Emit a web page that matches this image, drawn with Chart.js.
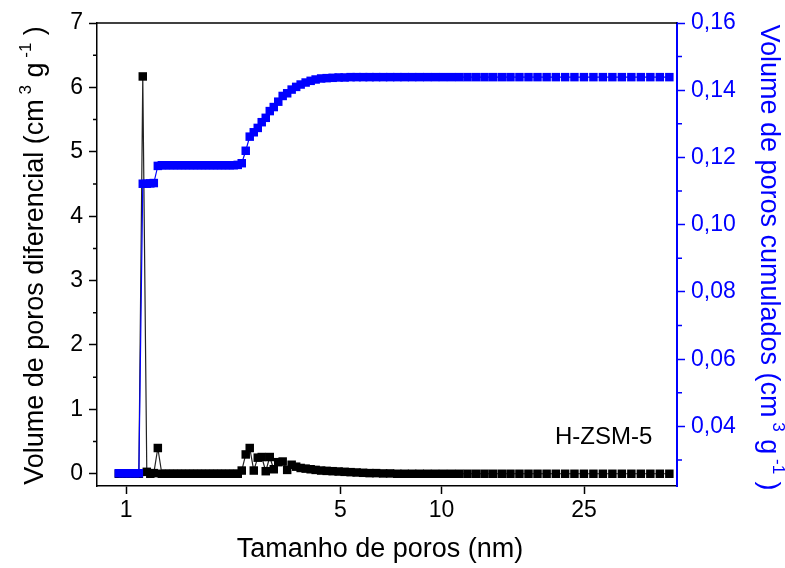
<!DOCTYPE html>
<html>
<head>
<meta charset="utf-8">
<script src="https://cdn.jsdelivr.net/npm/chart.js@4.4.0/dist/chart.umd.min.js"></script>
<style>
  body { margin: 0; background: #fff; }
</style>
</head>
<body>
<canvas id="chart" width="785" height="568"></canvas>
<script>
// pore width (nm)
const poreSize = [
  0.943, 0.974, 1.006, 1.038, 1.072, 1.107, 1.142, 1.179, 1.212, 1.246,
  1.286, 1.327, 1.369, 1.412, 1.457, 1.503, 1.550, 1.599, 1.649, 1.700,
  1.753, 1.808, 1.864, 1.922, 1.981, 2.042, 2.104, 2.169, 2.235, 2.303,
  2.373, 2.445, 2.519, 2.595, 2.674, 2.754, 2.836, 2.921, 3.009, 3.098,
  3.202, 3.307, 3.417, 3.530, 3.647, 3.767, 3.905, 4.048, 4.195, 4.363,
  4.537, 4.734, 4.939, 5.152, 5.373, 5.604, 5.863, 6.134, 6.416, 6.733,
  7.064, 7.420, 7.799, 8.206, 8.632, 9.091, 9.579, 10.10, 10.66, 11.25,
  11.88, 12.56, 13.28, 14.03, 14.85, 15.71, 16.64, 17.63, 18.67, 19.78,
  20.96, 22.22, 23.55, 24.98, 26.49, 28.08, 29.76, 31.53, 33.40, 35.37,
  37.45, 39.64, 41.95
];
// differential pore volume (cm3 g-1), left axis
const diffVolume = [
  0, 0, 0, 0, 0, 0, 6.17, 0.03, 0, 0.01,
  0.40, 0, 0, 0, 0, 0, 0, 0, 0, 0,
  0, 0, 0, 0, 0, 0, 0, 0, 0, 0,
  0, 0.05, 0.30, 0.40, 0.05, 0.25, 0.26, 0.04, 0.26, 0.07,
  0.18, 0.19, 0.06, 0.14, 0.11, 0.09, 0.08, 0.07, 0.06, 0.05,
  0.045, 0.04, 0.035, 0.03, 0.025, 0.02, 0.015, 0.01, 0.01, 0.005,
  0.005, 0, 0, 0, 0, 0, 0, 0, 0, 0,
  0, 0, 0, 0, 0, 0, 0, 0, 0, 0,
  0, 0, 0, 0, 0, 0, 0, 0, 0, 0,
  0, 0, 0
];
// cumulative pore volume (cm3 g-1), right axis
const cumVolume = [
  0.0261, 0.0261, 0.0261, 0.0261, 0.0261, 0.0261, 0.1122, 0.1122, 0.1123, 0.1124,
  0.1175, 0.1177, 0.1177, 0.1177, 0.1177, 0.1177, 0.1177, 0.1177, 0.1177, 0.1177,
  0.1177, 0.1177, 0.1177, 0.1177, 0.1177, 0.1177, 0.1177, 0.1177, 0.1177, 0.1177,
  0.1178, 0.1183, 0.1220, 0.1262, 0.1275, 0.1288, 0.1305, 0.1318, 0.1338, 0.1350,
  0.1366, 0.1383, 0.1391, 0.1402, 0.1410, 0.1417, 0.1423, 0.1428, 0.1432, 0.1435,
  0.1436, 0.1437, 0.1438, 0.1438, 0.1439, 0.1439, 0.1439, 0.1439, 0.1439, 0.1439,
  0.1439, 0.1439, 0.1439, 0.1439, 0.1439, 0.1439, 0.1439, 0.1439, 0.1439, 0.1439,
  0.1439, 0.1439, 0.1439, 0.1439, 0.1439, 0.1439, 0.1439, 0.1439, 0.1439, 0.1439,
  0.1439, 0.1439, 0.1439, 0.1439, 0.1439, 0.1439, 0.1439, 0.1439, 0.1439, 0.1439,
  0.1439, 0.1439, 0.1439
];

const xTicks = [1, 5, 10, 25];
const leftTicks = [0, 1, 2, 3, 4, 5, 6, 7];
const leftMinorTicks = [0.5, 1.5, 2.5, 3.5, 4.5, 5.5, 6.5];
const rightTicks = [0.04, 0.06, 0.08, 0.10, 0.12, 0.14, 0.16];
const rightMinorTicks = [0.03, 0.05, 0.07, 0.09, 0.11, 0.13, 0.15];
const sampleName = 'H-ZSM-5';
const xTitle = 'Tamanho de poros (nm)';
const leftTitle = [['Volume de poros diferencial (cm', false], [' 3', true], [' g', false], [' -1', true], [' )', false]];
const rightTitle = [['Volume de poros cumulados (cm', false], [' 3', true], [' g', false], [' -1', true], [' )', false]];

const BLUE = '#0000ff';
const FONT = "'Liberation Sans', Arial, sans-serif";
Chart.defaults.font.family = FONT;

// the x axis of the original is neither linear nor log, it spaces like x^0.08
const POW = 0.08;
class PowerScale extends Chart.LinearScale {
  getPixelForValue(value) {
    const a = Math.pow(this.min, POW), b = Math.pow(this.max, POW);
    return this.getPixelForDecimal((Math.pow(value, POW) - a) / (b - a));
  }
  getValueForPixel(pixel) {
    const a = Math.pow(this.min, POW), b = Math.pow(this.max, POW);
    return Math.pow(a + this.getDecimalForPixel(pixel) * (b - a), 1 / POW);
  }
}
PowerScale.id = 'power';
PowerScale.defaults = Chart.LinearScale.defaults;
Chart.register(PowerScale);

function drawRich(ctx, parts, cx, cy, rot, color) {
  ctx.save();
  ctx.translate(cx, cy);
  ctx.rotate(rot);
  ctx.fillStyle = color;
  ctx.textBaseline = 'middle';
  ctx.textAlign = 'left';
  let w = 0;
  parts.forEach(p => {
    ctx.font = (p[1] ? 17 : 27) + 'px ' + FONT;
    w += ctx.measureText(p[0]).width;
  });
  let x = -w / 2;
  parts.forEach(p => {
    ctx.font = (p[1] ? 17 : 27) + 'px ' + FONT;
    ctx.fillText(p[0], x, p[1] ? -10 : 0);
    x += ctx.measureText(p[0]).width;
  });
  ctx.restore();
}

const decor = {
  id: 'decor',
  afterDraw(chart) {
    const {ctx, chartArea: a, scales} = chart;
    ctx.save();
    // top frame line
    ctx.strokeStyle = '#000';
    ctx.lineWidth = 1.5;
    ctx.beginPath();
    ctx.moveTo(a.left, a.top);
    ctx.lineTo(a.right, a.top);
    ctx.stroke();
    // minor ticks
    ctx.beginPath();
    leftMinorTicks.forEach(v => {
      const y = scales.y.getPixelForValue(v);
      ctx.moveTo(a.left, y);
      ctx.lineTo(a.left - 4, y);
    });
    ctx.stroke();
    ctx.strokeStyle = BLUE;
    ctx.beginPath();
    rightMinorTicks.forEach(v => {
      const y = scales.y1.getPixelForValue(v);
      ctx.moveTo(a.right, y);
      ctx.lineTo(a.right + 5, y);
    });
    ctx.stroke();
    // sample label
    ctx.fillStyle = '#000';
    ctx.font = '24px ' + FONT;
    ctx.textAlign = 'left';
    ctx.textBaseline = 'middle';
    ctx.fillText(sampleName, a.right - 122, a.bottom - 49);
    // x title
    ctx.font = '27px ' + FONT;
    ctx.textAlign = 'center';
    ctx.fillText(xTitle, 380, 550);
    ctx.restore();
    // y titles with superscripts
    drawRich(ctx, leftTitle, 36, (a.top + a.bottom) / 2 + 1, -Math.PI / 2, '#000');
    drawRich(ctx, rightTitle, 768, (a.top + a.bottom) / 2 + 3, Math.PI / 2, BLUE);
  }
};

new Chart(document.getElementById('chart'), {
  type: 'line',
  data: {
    datasets: [
      {
        label: 'cumulativo',
        data: poreSize.map((x, i) => ({x: x, y: cumVolume[i]})),
        yAxisID: 'y1',
        borderColor: BLUE,
        backgroundColor: BLUE,
        borderWidth: 1.2,
        pointStyle: 'rect',
        pointRadius: 6,
        pointBorderWidth: 0,
        pointBackgroundColor: BLUE,
        order: 0
      },
      {
        label: 'diferencial',
        data: poreSize.map((x, i) => ({x: x, y: diffVolume[i]})),
        yAxisID: 'y',
        borderColor: '#222',
        backgroundColor: '#000',
        borderWidth: 1.2,
        pointStyle: 'rect',
        pointRadius: 6,
        pointBorderWidth: 0,
        pointBackgroundColor: '#000',
        order: 1
      }
    ]
  },
  options: {
    responsive: false,
    animation: false,
    layout: { autoPadding: false, padding: { top: 23, left: 0, right: 0, bottom: 0 } },
    plugins: { legend: { display: false }, tooltip: { enabled: false } },
    scales: {
      x: {
        type: 'power',
        position: 'bottom',
        min: 0.79,
        max: 43.9,
        afterBuildTicks: s => { s.ticks = xTicks.map(v => ({value: v})); },
        afterFit: s => { s.height = 82; },
        ticks: { color: '#000', font: { size: 23 }, padding: 3, autoSkip: false, maxRotation: 0, callback: v => String(v) },
        grid: { drawOnChartArea: false, tickLength: 8, tickWidth: 1.5, tickColor: '#000' },
        border: { color: '#000', width: 1.5 }
      },
      y: {
        position: 'left',
        min: -0.19,
        max: 7,
        afterBuildTicks: s => { s.ticks = leftTicks.map(v => ({value: v})); },
        afterFit: s => { s.width = 97; },
        ticks: { color: '#000', font: { size: 23 }, padding: 6 },
        grid: { drawOnChartArea: false, tickLength: 8, tickWidth: 1.5, tickColor: '#000' },
        border: { color: '#000', width: 1.5 }
      },
      y1: {
        position: 'right',
        min: 0.0223,
        max: 0.16,
        afterBuildTicks: s => { s.ticks = rightTicks.map(v => ({value: v})); },
        afterFit: s => { s.width = 108; },
        ticks: { color: BLUE, font: { size: 23 }, padding: 6, callback: v => v.toFixed(2).replace('.', ',') },
        grid: { drawOnChartArea: false, tickLength: 8, tickWidth: 1.5, tickColor: BLUE },
        border: { color: BLUE, width: 2 }
      }
    }
  },
  plugins: [decor]
});
</script>
</body>
</html>
